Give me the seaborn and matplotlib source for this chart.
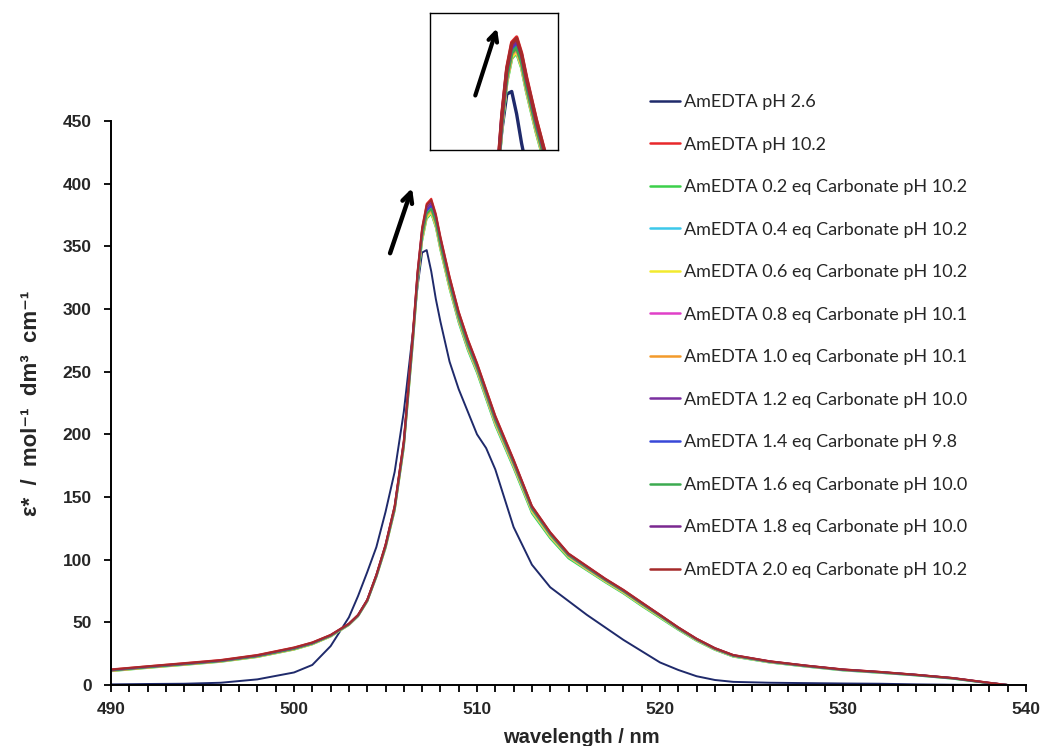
import numpy as np
import pandas as pd
import matplotlib
matplotlib.use("Agg")
import matplotlib.pyplot as plt
from matplotlib.ticker import MultipleLocator
from matplotlib.lines import Line2D
import seaborn as sns

# Shared wavelength grid (nm)
wavelength = [490, 492, 494, 496, 498, 500, 501, 502, 503, 503.5, 504, 504.5, 505, 505.5, 506,
              506.5, 506.75, 507, 507.25, 507.5, 507.75, 508, 508.5, 509, 509.5, 510, 510.5, 511,
              512, 513, 514, 515, 516, 517, 518, 519, 520, 521, 522, 523, 524, 526, 528, 530,
              532, 534, 536, 538, 539]

labels = [
    "AmEDTA pH 2.6",
    "AmEDTA pH 10.2",
    "AmEDTA 0.2 eq Carbonate pH 10.2",
    "AmEDTA 0.4 eq Carbonate pH 10.2",
    "AmEDTA 0.6 eq Carbonate pH 10.2",
    "AmEDTA 0.8 eq Carbonate pH 10.1",
    "AmEDTA 1.0 eq Carbonate pH 10.1",
    "AmEDTA 1.2 eq Carbonate pH 10.0",
    "AmEDTA 1.4 eq Carbonate pH 9.8",
    "AmEDTA 1.6 eq Carbonate pH 10.0",
    "AmEDTA 1.8 eq Carbonate pH 10.0",
    "AmEDTA 2.0 eq Carbonate pH 10.2",
]

colors = ["#1f2a6b", "#e8282b", "#3cd04a", "#3cc8ea", "#f2ea2e", "#e040c8",
          "#f39a2b", "#7a2fa0", "#3848d8", "#3caa50", "#7a2890", "#a52a2a"]

eps_ph26 = [0.5, 0.8, 1.0, 1.8, 4.5, 10, 16, 31, 54, 71, 90, 110, 138, 170, 218,
            282, 318, 345, 347, 330, 308, 290, 258, 236, 218, 200, 189, 172,
            126, 96, 78, 67, 56, 46, 36, 27, 18, 12, 7, 4, 2.5, 1.8, 1.5, 1.2,
            1.0, 0.5, 0.2, 0.0, 0.0]
eps_ph102 = [12.5, 15, 17.5, 20, 24, 30, 34, 40, 49, 56, 68, 88, 112, 143, 195,
             282, 330, 365, 384, 388, 376, 358, 326, 298, 276, 257, 236, 215,
             180, 143, 122, 105, 95, 85, 76, 66, 56, 46, 37, 29.5, 24, 19, 15.5, 12.5,
             10.5, 8.2, 5.6, 1.8, 0]
eps_c02 = [11.0, 13.6, 16.0, 18.5, 22.3, 28.2, 32.4, 38.6, 47.8, 54.8, 66.5, 86, 109, 139, 189,
           273, 320, 354, 372, 376, 365, 347, 316, 289, 267, 249, 228, 207,
           173, 137, 117, 101, 91.5, 82, 73, 63, 53.5, 44, 35.2, 28, 22.6, 17.9, 14.6, 11.6,
           9.7, 7.6, 5.0, 1.3, 0]
eps_c04 = [11.3, 13.9, 16.3, 18.8, 22.6, 28.5, 32.7, 38.9, 48.0, 55.0, 66.8, 86.4, 109.5, 139.6, 190,
           274, 321, 355, 373, 377, 366, 348, 317, 290, 268, 250, 229, 208,
           174, 138, 118, 102, 92, 82.5, 73.5, 63.5, 54, 44.3, 35.5, 28.2, 22.8, 18.0, 14.7, 11.8,
           9.8, 7.7, 5.1, 1.4, 0]
eps_c06 = [11.2, 13.8, 16.2, 18.7, 22.5, 28.4, 32.6, 38.8, 48.0, 55.0, 66.7, 86.2, 109.4, 139.4, 189.8,
           274, 321, 355, 373, 377, 366, 348, 317, 290.5, 268.5, 250.5, 229.5, 208.5,
           174.5, 138.5, 118.3, 102.2, 92.2, 82.7, 73.7, 63.7, 54.2, 44.5, 35.6, 28.3, 22.9, 18.1, 14.8, 11.9,
           9.9, 7.8, 5.2, 1.4, 0]
eps_c08 = [11.5, 14.1, 16.5, 19.0, 22.9, 28.8, 33.0, 39.2, 48.3, 55.3, 67.1, 86.8, 110.2, 140.4, 191,
           276, 323, 357, 375, 379, 368, 350, 319, 292, 270, 252, 231, 210,
           176, 140, 119.5, 103, 93, 83.5, 74.5, 64.5, 55, 45, 36.1, 28.7, 23.3, 18.4, 15.0, 12.0,
           10.1, 7.9, 5.3, 1.5, 0]
eps_c10 = [11.4, 14.0, 16.4, 18.9, 22.8, 28.7, 32.9, 39.1, 48.2, 55.2, 67.0, 86.7, 110.0, 140.2, 190.8,
           276, 323, 357, 375, 379.5, 368.5, 350.5, 319.5, 292.5, 270.5, 252.5, 231.5, 210.5,
           176.5, 140.5, 119.8, 103.3, 93.3, 83.7, 74.7, 64.7, 55.2, 45.2, 36.2, 28.8, 23.4, 18.5, 15.1, 12.1,
           10.2, 8.0, 5.3, 1.5, 0]
eps_c12 = [11.8, 14.4, 16.8, 19.3, 23.2, 29.2, 33.3, 39.5, 48.6, 55.6, 67.5, 87.3, 110.9, 141.5, 192.8,
           279, 326, 361, 379, 383, 372, 354, 322.5, 295, 273, 254.5, 233.5, 212.5,
           178, 141.5, 120.8, 104, 94, 84.2, 75.2, 65.2, 55.5, 45.5, 36.6, 29.1, 23.6, 18.7, 15.3, 12.2,
           10.3, 8.1, 5.4, 1.6, 0]
eps_c14 = [11.7, 14.3, 16.7, 19.2, 23.1, 29.0, 33.2, 39.4, 48.5, 55.5, 67.4, 87.1, 110.7, 141.2, 192.4,
           278, 325, 360, 378, 382, 371, 353, 321.5, 294, 272, 254, 233, 212,
           177.5, 141, 120.5, 103.7, 93.7, 84, 75, 65, 55.3, 45.3, 36.4, 29.0, 23.5, 18.6, 15.2, 12.2,
           10.2, 8.0, 5.4, 1.5, 0]
eps_c16 = [11.6, 14.2, 16.6, 19.1, 23.0, 28.9, 33.1, 39.3, 48.4, 55.4, 67.2, 87.0, 110.4, 140.8, 191.6,
           277, 324, 358, 376, 380, 369, 351, 320, 293, 271, 253, 232, 211,
           177, 140.5, 120, 103.5, 93.5, 83.8, 74.8, 64.8, 55.1, 45.1, 36.3, 28.9, 23.4, 18.5, 15.1, 12.1,
           10.1, 7.9, 5.3, 1.5, 0]
eps_c18 = [12.0, 14.6, 17.0, 19.5, 23.5, 29.5, 33.6, 39.7, 48.8, 55.8, 67.7, 87.6, 111.4, 142.2, 193.8,
           280, 328, 363, 381, 385, 374, 356, 324, 296.5, 274.5, 255.5, 234.5, 213.5,
           179, 142.2, 121.4, 104.5, 94.5, 84.6, 75.6, 65.6, 55.8, 45.8, 36.8, 29.3, 23.8, 18.8, 15.4, 12.3,
           10.4, 8.1, 5.5, 1.7, 0]
eps_c20 = [12.3, 14.9, 17.3, 19.8, 23.8, 29.8, 33.9, 39.9, 48.9, 55.9, 67.9, 87.9, 111.8, 142.7, 194.5,
           281, 329, 364, 383, 387, 375, 357, 325.5, 297.5, 275.5, 256.5, 235.5, 214.5,
           179.5, 142.7, 121.8, 104.8, 94.8, 84.8, 75.8, 65.8, 56, 46, 36.9, 29.4, 23.9, 18.9, 15.5, 12.4,
           10.5, 8.2, 5.6, 1.8, 0]

series = [eps_ph26, eps_ph102, eps_c02, eps_c04, eps_c06, eps_c08, eps_c10,
          eps_c12, eps_c14, eps_c16, eps_c18, eps_c20]

frames = []
for lab, vals in zip(labels, series):
    frames.append(pd.DataFrame({"wavelength": wavelength, "eps": vals, "sample": lab}))
df = pd.concat(frames, ignore_index=True)
palette = dict(zip(labels, colors))

sns.set_style("white")
plt.rcParams["font.family"] = ["Liberation Sans", "DejaVu Sans"]

fig = plt.figure(figsize=(10.53, 7.46), dpi=100)
ax = fig.add_axes([111 / 1053, 1 - 685 / 746, 915 / 1053, 564 / 746])

sns.lineplot(data=df, x="wavelength", y="eps", hue="sample", hue_order=labels,
             palette=palette, estimator=None, sort=False, linewidth=1.4,
             legend=False, ax=ax)

ax.set_xlim(490, 540)
ax.set_ylim(0, 450)
ax.xaxis.set_major_locator(MultipleLocator(10))
ax.xaxis.set_minor_locator(MultipleLocator(1))
ax.yaxis.set_major_locator(MultipleLocator(50))
for s in ["top", "right"]:
    ax.spines[s].set_visible(False)
for s in ["left", "bottom"]:
    ax.spines[s].set_color("black")
    ax.spines[s].set_linewidth(1.4)
ax.tick_params(axis="both", which="both", direction="out", length=5, width=1.3,
               color="black", left=True, bottom=True)
ax.tick_params(axis="x", which="major", labelsize=12.5, pad=7)
ax.tick_params(axis="y", which="major", labelsize=12.5, pad=9)
for t in ax.get_xticklabels() + ax.get_yticklabels():
    t.set_fontweight("bold")

ax.set_xlabel("wavelength / nm", fontsize=14.5, fontweight="bold")
ax.xaxis.set_label_coords(0.514, -0.077)
ax.set_ylabel("ε*  /  mol⁻¹  dm³  cm⁻¹", fontsize=16, fontweight="bold",
              family=["Liberation Sans", "DejaVu Sans"])
ax.yaxis.set_label_coords(-0.075, 0.50)

ax.annotate("", xy=(506.45, 396.5), xytext=(505.25, 344.5),
            arrowprops=dict(arrowstyle="->", lw=3.2, color="black",
                            mutation_scale=18, shrinkA=0, shrinkB=0))

# Magnified view of the band maximum
axin = fig.add_axes([430 / 1053, 1 - 150 / 746, 128 / 1053, 137 / 746])
sns.lineplot(data=df, x="wavelength", y="eps", hue="sample", hue_order=labels,
             palette=palette, estimator=None, sort=False, linewidth=2.4,
             legend=False, ax=axin)
axin.set_xlim(503.1, 509.6)
axin.set_ylim(303, 406)
axin.set_xticks([])
axin.set_yticks([])
axin.set_xlabel("")
axin.set_ylabel("")
for s in axin.spines.values():
    s.set_visible(True)
    s.set_color("black")
    s.set_linewidth(1.0)
axin.annotate("", xy=(506.5, 394.5), xytext=(505.4, 344),
              arrowprops=dict(arrowstyle="->", lw=3.0, color="black",
                              mutation_scale=16, shrinkA=0, shrinkB=0))

handles = [Line2D([0], [0], color=c, lw=1.8) for c in colors]
fig.legend(handles, labels, loc="upper left", bbox_to_anchor=(650 / 1053, 1 - 94 / 746),
           frameon=False, handlelength=1.65, handletextpad=0.22,
           labelspacing=1.47, borderpad=0, borderaxespad=0,
           prop={"family": ["Lato", "DejaVu Sans"], "size": 13})

fig.savefig("out.png", dpi=100)
